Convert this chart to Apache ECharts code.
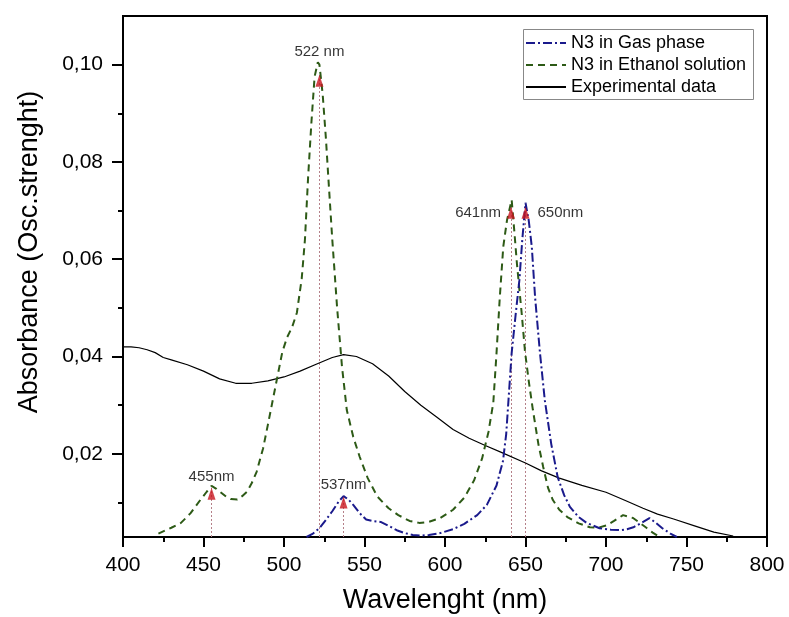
<!DOCTYPE html>
<html>
<head>
<meta charset="utf-8">
<script src="https://cdn.jsdelivr.net/npm/echarts@6/dist/echarts.min.js"></script>
<style>
  html, body { margin: 0; padding: 0; background: #fff; }
  #chart { width: 789px; height: 617px; }
</style>
</head>
<body>
<div id="chart"></div>
<script>
// N3 dye: calculated oscillator strengths vs. measured absorbance
const gasWl = [514, 518, 522, 526, 530, 534, 537, 540, 543, 547, 551, 555, 560, 565, 570, 575, 580, 585, 590, 597, 605, 612, 620, 626, 632, 636, 638, 641.4, 644, 646.2, 648, 650, 652, 653.9, 656, 659, 662, 666, 670, 674, 677.6, 683, 688, 696, 703, 709, 713, 717, 722, 727, 731, 735, 740, 744];
const gasAbs = [0.0029, 0.0036, 0.0047, 0.0064, 0.0082, 0.0102, 0.0113, 0.0106, 0.0095, 0.0078, 0.0065, 0.0062, 0.0060, 0.0052, 0.0043, 0.0037, 0.0033, 0.0032, 0.0033, 0.0037, 0.0045, 0.0056, 0.0074, 0.0095, 0.0135, 0.0185, 0.0240, 0.0407, 0.0490, 0.0557, 0.0640, 0.0716, 0.0680, 0.0626, 0.0520, 0.0407, 0.0310, 0.0220, 0.0152, 0.0115, 0.0091, 0.0070, 0.0058, 0.0047, 0.0044, 0.0043, 0.0045, 0.0049, 0.0058, 0.0068, 0.0058, 0.0047, 0.0036, 0.0029];

const ethWl = [422, 430, 436, 442, 448, 452, 455, 458, 461, 464, 467, 471, 474, 477, 480, 483, 487, 490, 493, 496, 499, 502, 505, 508, 511, 513, 515, 517, 519, 521, 522, 524, 526, 527.5, 530, 533, 536, 539, 543, 547, 552, 558, 565, 571, 578, 584, 590, 597, 605, 612, 618, 623, 627, 630, 632, 634, 636.2, 638.5, 641.4, 643, 644.7, 647.6, 649.7, 652, 654.6, 658, 661, 664, 667, 671, 676, 683, 690, 695, 700.6, 705, 710.6, 716.8, 721, 725.5, 729, 733.5];
const ethAbs = [0.0036, 0.0048, 0.0058, 0.0078, 0.0105, 0.0122, 0.0134, 0.0128, 0.0120, 0.0112, 0.0107, 0.0106, 0.0113, 0.0122, 0.0140, 0.0163, 0.0211, 0.0260, 0.0310, 0.0360, 0.0410, 0.0440, 0.0460, 0.0490, 0.0560, 0.0640, 0.0770, 0.0880, 0.0975, 0.1005, 0.1000, 0.0940, 0.0850, 0.0770, 0.0640, 0.0500, 0.0380, 0.0290, 0.0235, 0.0194, 0.0150, 0.0112, 0.0088, 0.0074, 0.0062, 0.0058, 0.0060, 0.0068, 0.0085, 0.0110, 0.0145, 0.0190, 0.0245, 0.0305, 0.0407, 0.0520, 0.0626, 0.0680, 0.0722, 0.0660, 0.0590, 0.0490, 0.0410, 0.0350, 0.0290, 0.0220, 0.0173, 0.0130, 0.0105, 0.0085, 0.0070, 0.0057, 0.0049, 0.0048, 0.0053, 0.0062, 0.0074, 0.0068, 0.0058, 0.0047, 0.0038, 0.0029];

const expWl = [400, 405, 410, 415, 420, 425, 430, 440, 450, 460, 470, 480, 490, 500, 510, 520, 530, 537, 545, 555, 565, 575, 585, 595, 605, 615, 625, 635, 650, 660, 671, 685, 700, 712, 723, 732, 742, 755, 767, 779];
const expAbs = [0.0420, 0.0420, 0.0418, 0.0414, 0.0408, 0.0398, 0.0393, 0.0383, 0.0370, 0.0354, 0.0345, 0.0345, 0.0350, 0.0358, 0.0370, 0.0384, 0.0398, 0.0404, 0.0400, 0.0385, 0.0360, 0.0328, 0.0300, 0.0275, 0.0250, 0.0232, 0.0217, 0.0203, 0.0181, 0.0165, 0.0150, 0.0135, 0.0121, 0.0104, 0.0088, 0.0076, 0.0066, 0.0052, 0.0039, 0.0031];

// Peak markers: wavelength, arrow tip height, caption
const peakWl = [455, 522, 537, 641, 650];
const peakTip = [0.0130, 0.0979, 0.0112, 0.0708, 0.0708];
const peakText = ['455nm', '522 nm', '537nm', '641nm', '650nm'];

const yTicks = [0.02, 0.04, 0.06, 0.08, 0.10];
const yMinorTicks = [0.01, 0.03, 0.05, 0.07, 0.09];

const Y_MIN = 0.0029, Y_MAX = 0.11;
const FONT = "'Liberation Sans', Arial, sans-serif";

const zip = (xs, ys) => xs.map((x, i) => [x, ys[i]]);

// caption placement around each arrow
const captionPlace = {
  '455nm': { position: 'top', distance: 4 },
  '522 nm': { position: 'top', distance: 16 },
  '537nm': { position: 'top', distance: 4 },
  '641nm': { position: 'left', distance: 6 },
  '650nm': { position: 'right', distance: 8 }
};

const arrowData = peakWl.map((w, i) => ({
  value: [w, peakTip[i]],
  label: Object.assign({ show: true, formatter: peakText[i] }, captionPlace[peakText[i]])
}));

const guideLines = peakWl.map((w, i) => [
  { coord: [w, Y_MIN] },
  { coord: [w, peakTip[i]] }
]);

const chart = echarts.init(document.getElementById('chart'), null, { renderer: 'canvas' });

chart.setOption({
  animation: false,
  backgroundColor: '#ffffff',
  textStyle: { fontFamily: FONT },
  grid: {
    left: 123, right: 22, top: 16, bottom: 80,
    containLabel: false, outerBoundsMode: 'none',
    show: true, borderColor: '#000', borderWidth: 2, backgroundColor: 'transparent'
  },
  legend: {
    orient: 'vertical',
    left: 525, top: 34,
    padding: 0,
    itemWidth: 40, itemHeight: 14, itemGap: 4,
    itemStyle: { opacity: 0 },
    data: ['N3 in Gas phase', 'N3 in Ethanol solution', 'Experimental data'],
    textStyle: { fontFamily: FONT, fontSize: 18, color: '#000' }
  },
  graphic: [
    {
      type: 'rect', silent: true, z: 100,
      shape: { x: 523.5, y: 29.5, width: 230, height: 70 },
      style: { fill: 'none', stroke: '#888', lineWidth: 1 }
    },
    {
      type: 'text', silent: true,
      x: 30, y: 252, rotation: Math.PI / 2,
      style: {
        text: 'Absorbance (Osc.strenght)',
        font: "27px 'Liberation Sans', Arial, sans-serif",
        fill: '#000', align: 'center', verticalAlign: 'middle'
      }
    }
  ],
  xAxis: {
    type: 'value', min: 400, max: 800, interval: 50,
    name: 'Wavelenght (nm)', nameLocation: 'middle', nameGap: 50,
    nameTextStyle: { fontFamily: FONT, fontSize: 27, color: '#000' },
    axisLine: { lineStyle: { color: '#000', width: 2 } },
    axisTick: { length: 10, lineStyle: { color: '#000', width: 2 } },
    minorTick: { show: true, splitNumber: 2, length: 5, lineStyle: { color: '#000', width: 2 } },
    axisLabel: { fontFamily: FONT, fontSize: 21, color: '#000', margin: 18 },
    splitLine: { show: false }
  },
  yAxis: [
    {
      type: 'value', min: Y_MIN, max: Y_MAX,
      axisLine: { show: true, lineStyle: { color: '#000', width: 2 } },
      axisTick: { show: true, length: 11, customValues: yTicks, lineStyle: { color: '#000', width: 2 } },
      axisLabel: {
        fontFamily: FONT, fontSize: 21, color: '#000', margin: 20,
        customValues: yTicks,
        formatter: v => v.toFixed(2).replace('.', ',')
      },
      splitLine: { show: false }
    },
    {
      type: 'value', min: Y_MIN, max: Y_MAX, position: 'left',
      axisLine: { show: false },
      axisTick: { show: true, length: 5, customValues: yMinorTicks, lineStyle: { color: '#000', width: 2 } },
      axisLabel: { show: false },
      splitLine: { show: false }
    }
  ],
  series: [
    {
      name: 'N3 in Gas phase', type: 'line', data: zip(gasWl, gasAbs),
      symbol: 'none', z: 4,
      lineStyle: { color: '#1a1a8c', width: 2, type: [9, 3, 2, 3] },
      itemStyle: { color: '#1a1a8c' }
    },
    {
      name: 'N3 in Ethanol solution', type: 'line', data: zip(ethWl, ethAbs),
      symbol: 'none', z: 3,
      lineStyle: { color: '#2d5a16', width: 2, type: [7, 5] },
      itemStyle: { color: '#2d5a16' }
    },
    {
      name: 'Experimental data', type: 'line', data: zip(expWl, expAbs),
      symbol: 'none', z: 2,
      lineStyle: { color: '#000', width: 1.2 },
      itemStyle: { color: '#000' }
    },
    {
      name: 'peaks', type: 'scatter', data: arrowData, z: 6,
      symbol: 'triangle', symbolSize: [8, 12], symbolOffset: [0, 6],
      itemStyle: { color: '#c8141e' },
      label: { color: '#000', fontFamily: FONT, fontSize: 15 },
      markLine: {
        silent: true, symbol: 'none', z: 1,
        label: { show: false },
        lineStyle: { color: '#b58089', width: 1, type: [2, 2] },
        data: guideLines
      }
    }
  ]
});
</script>
</body>
</html>
